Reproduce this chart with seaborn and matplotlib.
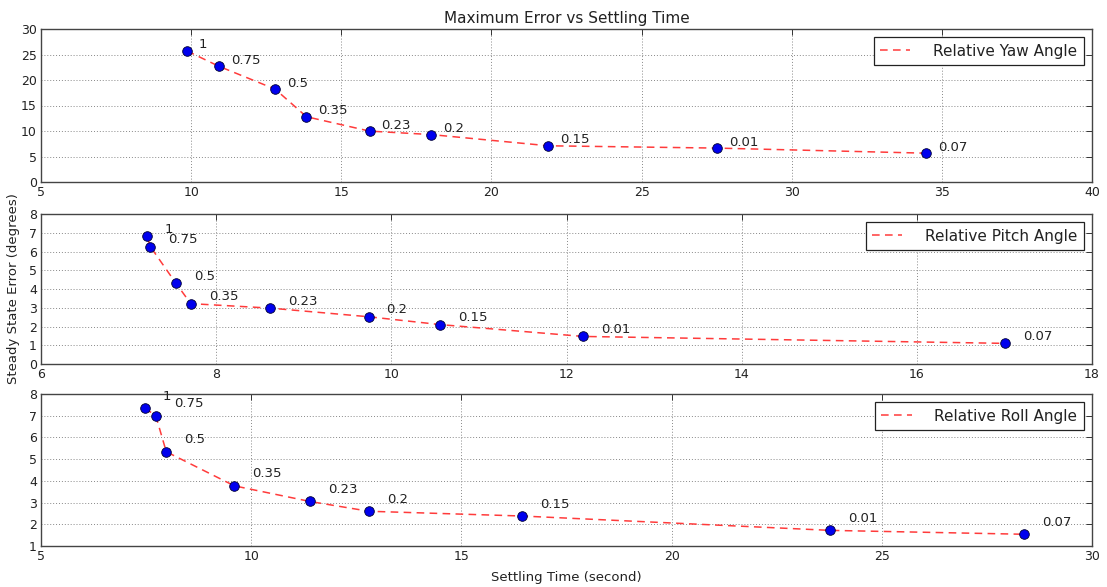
import matplotlib
matplotlib.use("Agg")
import matplotlib.pyplot as plt
import seaborn as sns
import numpy as np

# ---- data ----
gains = ["1", "0.75", "0.5", "0.35", "0.23", "0.2", "0.15", "0.01", "0.07"]

yaw_time = [9.86, 10.92, 12.80, 13.84, 15.94, 17.99, 21.90, 27.50, 34.47]
yaw_err = [25.7, 22.7, 18.2, 12.8, 9.98, 9.3, 7.1, 6.65, 5.65]

pitch_time = [7.21, 7.25, 7.54, 7.71, 8.62, 9.74, 10.56, 12.19, 17.01]
pitch_err = [6.81, 6.25, 4.31, 3.22, 2.98, 2.52, 2.10, 1.47, 1.10]

roll_time = [7.47, 7.73, 7.98, 9.60, 11.40, 12.80, 16.45, 23.77, 28.39]
roll_err = [7.35, 7.00, 5.34, 3.77, 3.05, 2.60, 2.38, 1.72, 1.54]

series_names = ["Relative Yaw Angle", "Relative Pitch Angle", "Relative Roll Angle"]
x_ticks = [np.arange(5, 41, 5), np.arange(6, 19, 2), np.arange(5, 31, 5)]
y_ticks = [np.arange(0, 31, 5), np.arange(0, 9, 1), np.arange(1, 9, 1)]

title = "Maximum Error vs Settling Time"
xlabel = "Settling Time (second)"
ylabel = "Steady State Error (degrees)"

# ---- style ----
sns.set_style("white")
plt.rcParams["font.family"] = ["DejaVu Sans"]
text_color = "#222222"

fig = plt.figure(figsize=(11.07, 5.87), dpi=100)
positions = [
    [41 / 1107, 1 - 182 / 587, 1051 / 1107, 153 / 587],
    [41 / 1107, 1 - 364 / 587, 1051 / 1107, 150 / 587],
    [41 / 1107, 1 - 546 / 587, 1051 / 1107, 152 / 587],
]
offsets = [(12, 6), (18, 7), (18, 12)]
data = [(yaw_time, yaw_err), (pitch_time, pitch_err), (roll_time, roll_err)]

axes = []
for i, (pos, (xs, ys)) in enumerate(zip(positions, data)):
    ax = fig.add_axes(pos)
    axes.append(ax)
    sns.lineplot(x=xs, y=ys, ax=ax, sort=False, estimator=None,
                 color="#ff3b3b", linestyle=(0, (5, 3.5)), linewidth=1.1,
                 label=series_names[i], zorder=2)
    sns.scatterplot(x=xs, y=ys, ax=ax, color="#0000ee", edgecolor="#000033",
                    linewidth=0.6, s=48, zorder=3, legend=False)
    for g, xv, yv in zip(gains, xs, ys):
        ax.annotate(g, (xv, yv), xytext=offsets[i], textcoords="offset pixels",
                    ha="left", va="center", fontsize=9.5, color=text_color)
    ax.set_xlim(x_ticks[i][0], x_ticks[i][-1])
    ax.set_ylim(y_ticks[i][0], y_ticks[i][-1])
    ax.set_xticks(x_ticks[i])
    ax.set_yticks(y_ticks[i])
    ax.grid(True, linestyle=(0, (1, 2)), color="#888888", linewidth=0.7)
    ax.tick_params(direction="in", length=4, width=0.7, top=True, right=True,
                   labelsize=9, labelcolor=text_color, color="#333333", pad=3)
    for sp in ax.spines.values():
        sp.set_color("#444444")
        sp.set_linewidth(1.0)
    leg = ax.legend(loc="upper right", fontsize=11, fancybox=False,
                    edgecolor="#222222", framealpha=1, borderaxespad=0.55,
                    handlelength=2.0, handletextpad=1.5, borderpad=0.4)
    leg.get_frame().set_linewidth(0.9)
    for t in leg.get_texts():
        t.set_color(text_color)
    ax.set_xlabel("")
    ax.set_ylabel("")

axes[0].set_title(title, fontsize=11, color=text_color, pad=4)
axes[1].set_ylabel(ylabel, fontsize=9.5, color=text_color, labelpad=6)
axes[2].set_xlabel(xlabel, fontsize=9.5, color=text_color, labelpad=6)

fig.savefig("out.png", dpi=100, facecolor="white")
